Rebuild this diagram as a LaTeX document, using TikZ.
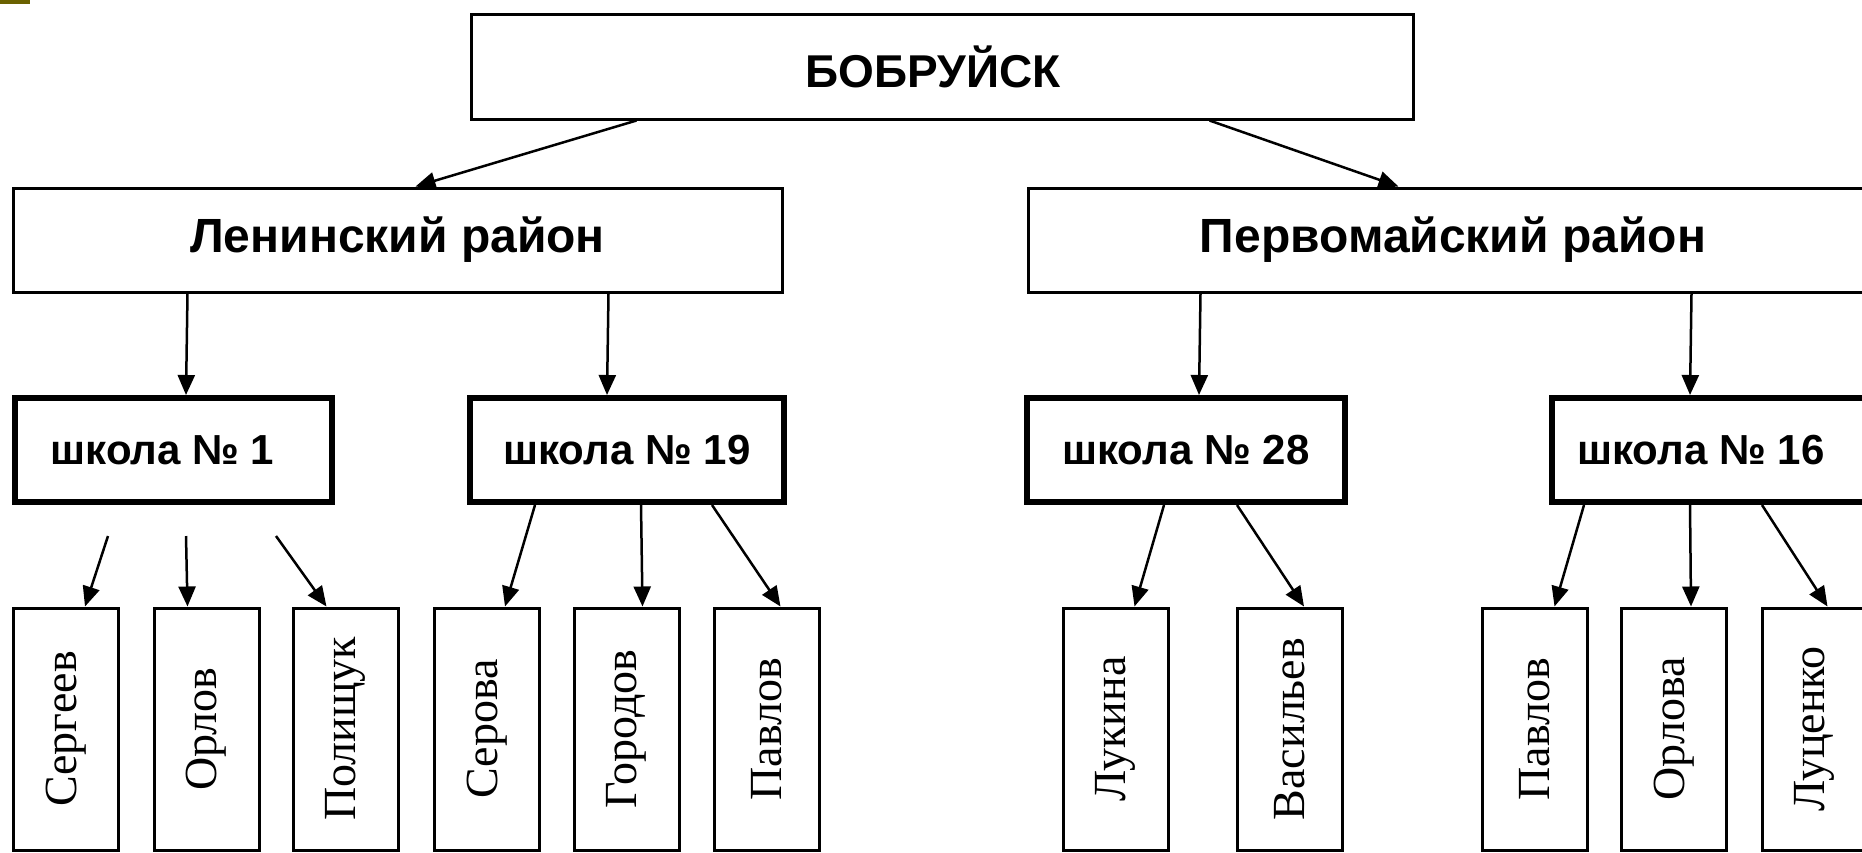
\documentclass[tikz,border=0pt]{standalone}
\usepackage{fontspec}
\setmainfont{Liberation Sans}
\newfontfamily\namefont{Liberation Serif}
\usetikzlibrary{arrows.meta}
\definecolor{oliveband}{RGB}{107,97,0}
\begin{document}
\begin{tikzpicture}[x=1pt,y=-1pt,
  thinbox/.style={draw, line width=3pt, rectangle, inner sep=0pt, minimum height=104pt},
  bigtext/.style={font=\bfseries\fontsize{48}{52}\selectfont},
  schoolbox/.style={draw, line width=6pt, rectangle, inner sep=0pt, minimum height=104pt,
    font=\bfseries\fontsize{42}{46}\selectfont},
  namebox/.style={draw, line width=3pt, rectangle, inner sep=0pt, minimum width=105pt,
    minimum height=242pt, font=\namefont\fontsize{46}{50}\selectfont},
  arr/.style={-{Triangle[length=20pt,width=17pt]}, line width=2.5pt}]
\clip (0,0) rectangle (1862,852);
\fill[white] (0,0) rectangle (1862,852);
\fill[oliveband] (0,0) rectangle (30,4);

% top
\node[thinbox, minimum width=942pt, minimum height=105pt,
  font=\bfseries\fontsize{46}{50}\selectfont] (top) at (942,66.5) {БОБРУЙСК\hspace*{18pt}};
% districts
\node[thinbox, bigtext, minimum width=769pt] (len) at (397.5,240) {Ленинский район};
\node[thinbox, bigtext, minimum width=850pt] (perv) at (1453,240) {Первомайский район};
% schools
\node[schoolbox, minimum width=317pt] (s1) at (173.5,450) {школа № 1\hspace*{22pt}};
\node[schoolbox, minimum width=314pt] (s19) at (627,450) {школа № 19};
\node[schoolbox, minimum width=318pt] (s28) at (1186,450) {школа № 28};
\node[schoolbox, minimum width=318pt] (s16) at (1711,450) {школа № 16\hspace*{20pt}};
% names
\node[namebox] (b1) at (66,729) {\rotatebox{90}{Сергеев}};
\node[namebox] (b2) at (206.5,729) {\rotatebox{90}{Орлов}};
\node[namebox] (b3) at (345.5,729) {\rotatebox{90}{Полищук}};
\node[namebox] (b4) at (487,729) {\rotatebox{90}{Серова}};
\node[namebox] (b5) at (626.5,729) {\rotatebox{90}{Городов}};
\node[namebox] (b6) at (766.5,729) {\rotatebox{90}{Павлов}};
\node[namebox] (b7) at (1115.5,729) {\rotatebox{90}{Лукина}};
\node[namebox] (b8) at (1290,729) {\rotatebox{90}{Васильев}};
\node[namebox] (b9) at (1534.5,729) {\rotatebox{90}{Павлов}};
\node[namebox] (b10) at (1674,729) {\rotatebox{90}{Орлова}};
\node[namebox] (b11) at (1814.5,729) {\rotatebox{90}{Луценко}};

% arrows top -> districts
\draw[arr] ([xshift=167pt]top.south west) -- ([xshift=404pt]len.north west);
\draw[arr] ([xshift=740pt]top.south west) -- ([xshift=372pt]perv.north west);
% districts -> schools
\draw[arr] ([xshift=176pt]len.south west) -- ([xshift=174pt]s1.north west);
\draw[arr] ([xshift=597pt]len.south west) -- ([xshift=140pt]s19.north west);
\draw[arr] ([xshift=174pt]perv.south west) -- ([xshift=175pt]s28.north west);
\draw[arr] ([xshift=665pt]perv.south west) -- ([xshift=141pt]s16.north west);
% school 1 -> names (gap below box)
\draw[arr] ([xshift=96pt,yshift=-31pt]s1.south west) -- ([xshift=73pt]b1.north west);
\draw[arr] ([xshift=174pt,yshift=-31pt]s1.south west) -- ([xshift=35pt]b2.north west);
\draw[arr] ([xshift=264pt,yshift=-31pt]s1.south west) -- ([xshift=35pt]b3.north west);
% school 19
\draw[arr] ([xshift=68pt]s19.south west) -- ([xshift=72pt]b4.north west);
\draw[arr] ([xshift=174pt]s19.south west) -- ([xshift=70pt]b5.north west);
\draw[arr] ([xshift=245pt]s19.south west) -- ([xshift=68pt]b6.north west);
% school 28
\draw[arr] ([xshift=140pt]s28.south west) -- ([xshift=73pt]b7.north west);
\draw[arr] ([xshift=213pt]s28.south west) -- ([xshift=68pt]b8.north west);
% school 16
\draw[arr] ([xshift=35pt]s16.south west) -- ([xshift=74pt]b9.north west);
\draw[arr] ([xshift=141pt]s16.south west) -- ([xshift=71pt]b10.north west);
\draw[arr] ([xshift=213pt]s16.south west) -- ([xshift=67pt]b11.north west);
\end{tikzpicture}
\end{document}
